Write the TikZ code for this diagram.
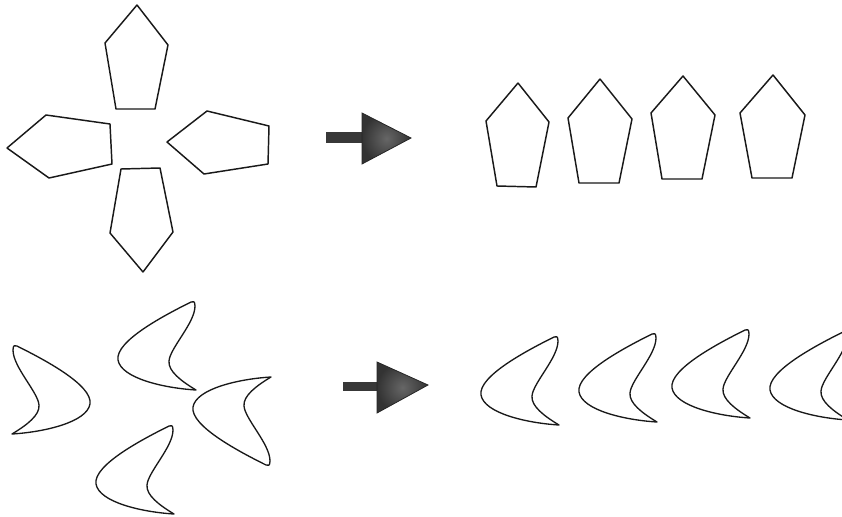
\documentclass[tikz,border=0pt]{standalone}
\begin{document}
\begin{tikzpicture}[x=0.75pt,y=-0.75pt]
\useasboundingbox (0,0) rectangle (842,517);
\clip (0,0) rectangle (842,517);
\tikzset{
  pent/.style={draw=black!90,line width=1.1pt,line join=round},
  cres/.style={draw=black!90,line width=1pt,line join=round},
  shaftfill/.style={fill=black!78},
  headfill/.style={draw=black!85,line width=0.6pt,inner color=black!60,outer color=black!80},
  crescent/.pic={
    \draw[cres] (-2,-1) .. controls (-28,12) and (-78,38) .. (-75,57)
      .. controls (-72,75) and (-30,85) .. (3,87)
      .. controls (-12,78) and (-25,68) .. (-24,58)
      .. controls (-23,45) and (2,20) .. (2,3)
      .. controls (2,-2) and (0,-2) .. cycle;
  }
}
% ---- top-left cross of pentagons
\draw[pent] (137,5) -- (168,45) -- (155,109) -- (116,109) -- (105,43) -- cycle;
\draw[pent] (7,148) -- (46,115) -- (110,124) -- (112,164) -- (49,178) -- cycle;
\draw[pent] (167,142) -- (207,111) -- (269,126) -- (268,164) -- (204,174) -- cycle;
\draw[pent] (143,272) -- (110,233) -- (121,169) -- (160,168) -- (173,232) -- cycle;
% ---- top arrow
\fill[shaftfill] (326,132) rectangle (364,143);
\shade[headfill] (362,113) -- (411,138) -- (362,164) -- cycle;
% ---- top row of pentagons
\draw[pent] (518,83) -- (549,122) -- (536,187) -- (497,186) -- (486,121) -- cycle;
\draw[pent] (600,79) -- (632,119) -- (619,183) -- (579,183) -- (568,118) -- cycle;
\draw[pent] (683,76) -- (715,115) -- (702,179) -- (662,179) -- (651,113) -- cycle;
\draw[pent] (773,75) -- (805,115) -- (792,178) -- (752,178) -- (740,113) -- cycle;
% ---- bottom-left group of crescents
\pic[xscale=-1] at (15,347) {crescent};
\pic at (193,303) {crescent};
\pic[yscale=-1] at (268,464) {crescent};
\pic at (171,427) {crescent};
% ---- bottom arrow
\fill[shaftfill] (343,382) rectangle (379,391);
\shade[headfill] (377,362) -- (428,385) -- (377,413) -- cycle;
% ---- bottom row of crescents
\pic at (556,338) {crescent};
\pic at (654,335) {crescent};
\pic at (747,331) {crescent};
\pic at (845,333) {crescent};
\end{tikzpicture}
\end{document}
